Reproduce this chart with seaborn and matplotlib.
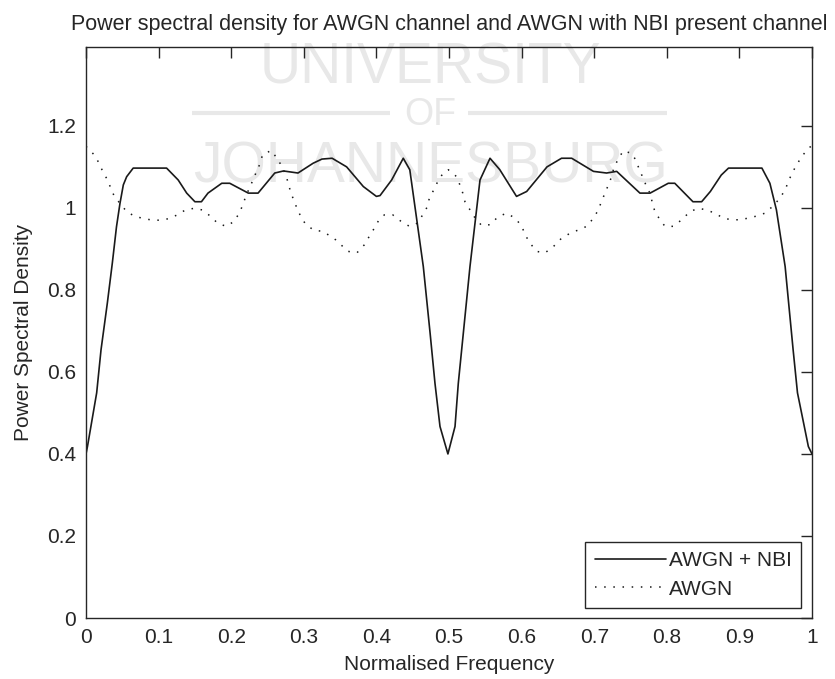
import matplotlib
matplotlib.use("Agg")
import matplotlib.pyplot as plt
import seaborn as sns
from matplotlib.lines import Line2D

# --- PSD of the channel with narrow-band interference (AWGN + NBI) ---
freq_nbi = [0.000, 0.002, 0.0147, 0.0207, 0.0294, 0.0363, 0.042, 0.0468, 0.0514, 0.056,
            0.065, 0.111, 0.127, 0.1387, 0.150, 0.159, 0.168, 0.187, 0.198, 0.2236,
            0.237, 0.260, 0.272, 0.292, 0.313, 0.325, 0.339, 0.359, 0.382, 0.400,
            0.405, 0.421, 0.437, 0.446, 0.4646, 0.474, 0.4807, 0.4876, 0.4985, 0.5083,
            0.5128, 0.5197, 0.5289, 0.5427, 0.5565, 0.570, 0.593, 0.607, 0.635, 0.655,
            0.669, 0.699, 0.717, 0.731, 0.763, 0.777, 0.802, 0.811, 0.836, 0.848,
            0.860, 0.875, 0.885, 0.931, 0.942, 0.951, 0.963, 0.974, 0.980, 0.995, 1.000]
psd_nbi = [0.400, 0.418, 0.549, 0.654, 0.768, 0.866, 0.954, 1.011, 1.056, 1.076,
           1.097, 1.097, 1.068, 1.036, 1.015, 1.015, 1.036, 1.060, 1.060, 1.036,
           1.036, 1.085, 1.090, 1.085, 1.109, 1.119, 1.121, 1.100, 1.052, 1.028,
           1.030, 1.068, 1.121, 1.093, 0.857, 0.694, 0.572, 0.467, 0.400, 0.467,
           0.572, 0.694, 0.857, 1.068, 1.121, 1.093, 1.028, 1.040, 1.100, 1.121,
           1.121, 1.089, 1.085, 1.089, 1.036, 1.036, 1.060, 1.060, 1.015, 1.015,
           1.040, 1.080, 1.097, 1.097, 1.060, 0.995, 0.857, 0.654, 0.549, 0.418, 0.400]

# --- PSD of the plain AWGN channel ---
freq_awgn = [0.000, 0.0115, 0.018, 0.023, 0.029, 0.039, 0.056, 0.0675, 0.080, 0.0913,
             0.103, 0.1147, 0.1258, 0.137, 0.149, 0.160, 0.172, 0.181, 0.193, 0.204,
             0.211, 0.216, 0.220, 0.225, 0.230, 0.235, 0.240, 0.243, 0.255, 0.264,
             0.271, 0.276, 0.282, 0.287, 0.2915, 0.297, 0.303, 0.3145, 0.326, 0.3375,
             0.344, 0.3536, 0.361, 0.373, 0.3834, 0.390, 0.397, 0.4036, 0.411, 0.4225,
             0.434, 0.4455, 0.4569, 0.4637, 0.4706, 0.4729, 0.4797, 0.4844, 0.492, 0.499,
             0.5106, 0.515, 0.519, 0.522, 0.529, 0.536, 0.545, 0.5565, 0.568, 0.5795,
             0.591, 0.600, 0.605, 0.6116, 0.6207, 0.632, 0.644, 0.655, 0.6667, 0.678,
             0.6897, 0.699, 0.7057, 0.7103, 0.7149, 0.7195, 0.724, 0.727, 0.733, 0.740,
             0.7516, 0.7585, 0.762, 0.7677, 0.772, 0.778, 0.780, 0.7837, 0.7906, 0.7975,
             0.809, 0.8205, 0.832, 0.8434, 0.855, 0.866, 0.878, 0.889, 0.9008, 0.912,
             0.9237, 0.935, 0.9467, 0.9559, 0.963, 0.9674, 0.9726, 0.9789, 0.9858, 0.9949,
             1.000]
psd_awgn = [1.150, 1.129, 1.109, 1.089, 1.070, 1.028, 0.991, 0.979, 0.974, 0.970,
            0.970, 0.974, 0.983, 0.995, 0.999, 0.995, 0.979, 0.963, 0.955, 0.967,
            0.987, 1.007, 1.028, 1.048, 1.068, 1.089, 1.109, 1.129, 1.140, 1.119,
            1.097, 1.076, 1.038, 1.015, 0.995, 0.975, 0.959, 0.945, 0.943, 0.930,
            0.922, 0.906, 0.894, 0.890, 0.910, 0.930, 0.950, 0.971, 0.983, 0.983,
            0.967, 0.955, 0.963, 0.983, 1.004, 1.024, 1.046, 1.064, 1.085, 1.093,
            1.076, 1.056, 1.036, 1.015, 0.995, 0.975, 0.957, 0.959, 0.979, 0.987,
            0.975, 0.956, 0.934, 0.914, 0.894, 0.890, 0.906, 0.926, 0.938, 0.946,
            0.955, 0.975, 0.995, 1.017, 1.036, 1.056, 1.076, 1.097, 1.119, 1.139,
            1.133, 1.113, 1.093, 1.072, 1.052, 1.032, 1.011, 0.991, 0.971, 0.955,
            0.955, 0.971, 0.991, 0.999, 0.995, 0.987, 0.975, 0.971, 0.971, 0.975,
            0.980, 0.987, 1.005, 1.024, 1.044, 1.064, 1.085, 1.105, 1.125, 1.145,
            1.152]

series_labels = ["AWGN + NBI", "AWGN"]
x_ticks = [0, 0.1, 0.2, 0.3, 0.4, 0.5, 0.6, 0.7, 0.8, 0.9, 1]
x_ticklabels = ["0", "0.1", "0.2", "0.3", "0.4", "0.5", "0.6", "0.7", "0.8", "0.9", "1"]
y_ticks = [0, 0.2, 0.4, 0.6, 0.8, 1.0, 1.2]
y_ticklabels = ["0", "0.2", "0.4", "0.6", "0.8", "1", "1.2"]

sns.set_theme(style="white")
plt.rcParams["font.family"] = ["Liberation Sans", "DejaVu Sans"]

INK = "#262626"
W, H = 835, 679
fig = plt.figure(figsize=(W / 100, H / 100), dpi=100)
fig.patch.set_facecolor("white")
ax = fig.add_axes([86 / W, 61 / H, 726 / W, 571.3 / H])

# faint background lettering behind the curves
wm = "#e8e8e8"
ax.text(430 / W, 1 - 83 / H, "UNIVERSITY", transform=fig.transFigure, ha="center",
        va="baseline", fontsize=41, color=wm, zorder=0.5)
ax.text(430 / W, 1 - 125 / H, "OF", transform=fig.transFigure, ha="center",
        va="baseline", fontsize=27, color=wm, zorder=0.5)
ax.text(430 / W, 1 - 183 / H, "JOHANNESBURG", transform=fig.transFigure, ha="center",
        va="baseline", fontsize=41, color=wm, zorder=0.5)
for x0, x1 in [(192, 390), (468, 667)]:
    ax.add_line(Line2D([x0 / W, x1 / W], [1 - 112.7 / H] * 2, transform=fig.transFigure,
                       color=wm, lw=3, zorder=0.5, solid_capstyle="butt"))

sns.lineplot(x=freq_nbi, y=psd_nbi, ax=ax, color="#1a1a1a", linewidth=1.2,
             label=series_labels[0], sort=False, zorder=3)
sns.lineplot(x=freq_awgn, y=psd_awgn, ax=ax, color="#1a1a1a", linewidth=1.1,
             linestyle=(0, (1, 5)), label=series_labels[1], sort=False, zorder=3)

ax.set_xlim(0, 1)
ax.set_ylim(0, 1.393)
ax.set_xticks(x_ticks)
ax.set_xticklabels(x_ticklabels)
ax.set_yticks(y_ticks)
ax.set_yticklabels(y_ticklabels)
ax.tick_params(direction="in", length=8, width=1, top=True, right=True,
               labelsize=15, pad=7, colors=INK, labelcolor=INK)
for s in ax.spines.values():
    s.set_visible(True)
    s.set_color(INK)
    s.set_linewidth(1)
    s.set_zorder(4)

ax.set_title("Power spectral density for AWGN channel and AWGN with NBI present channel",
             fontsize=15.5, color=INK, pad=12)
ax.set_xlabel("Normalised Frequency", fontsize=15, color=INK, labelpad=6)
ax.set_ylabel("Power Spectral Density", fontsize=15, color=INK, labelpad=10)

leg = ax.legend(loc="lower right", bbox_to_anchor=(1 - 11 / 726, 10 / 571.3),
                borderaxespad=0, frameon=True, fancybox=False, fontsize=15,
                handlelength=3.4, handletextpad=0.15, labelspacing=0.45,
                borderpad=0.45)
leg.get_frame().set_edgecolor(INK)
leg.get_frame().set_linewidth(1)
leg.get_frame().set_alpha(1)
for t in leg.get_texts():
    t.set_color(INK)

fig.savefig("out.png", dpi=100, facecolor="white")
